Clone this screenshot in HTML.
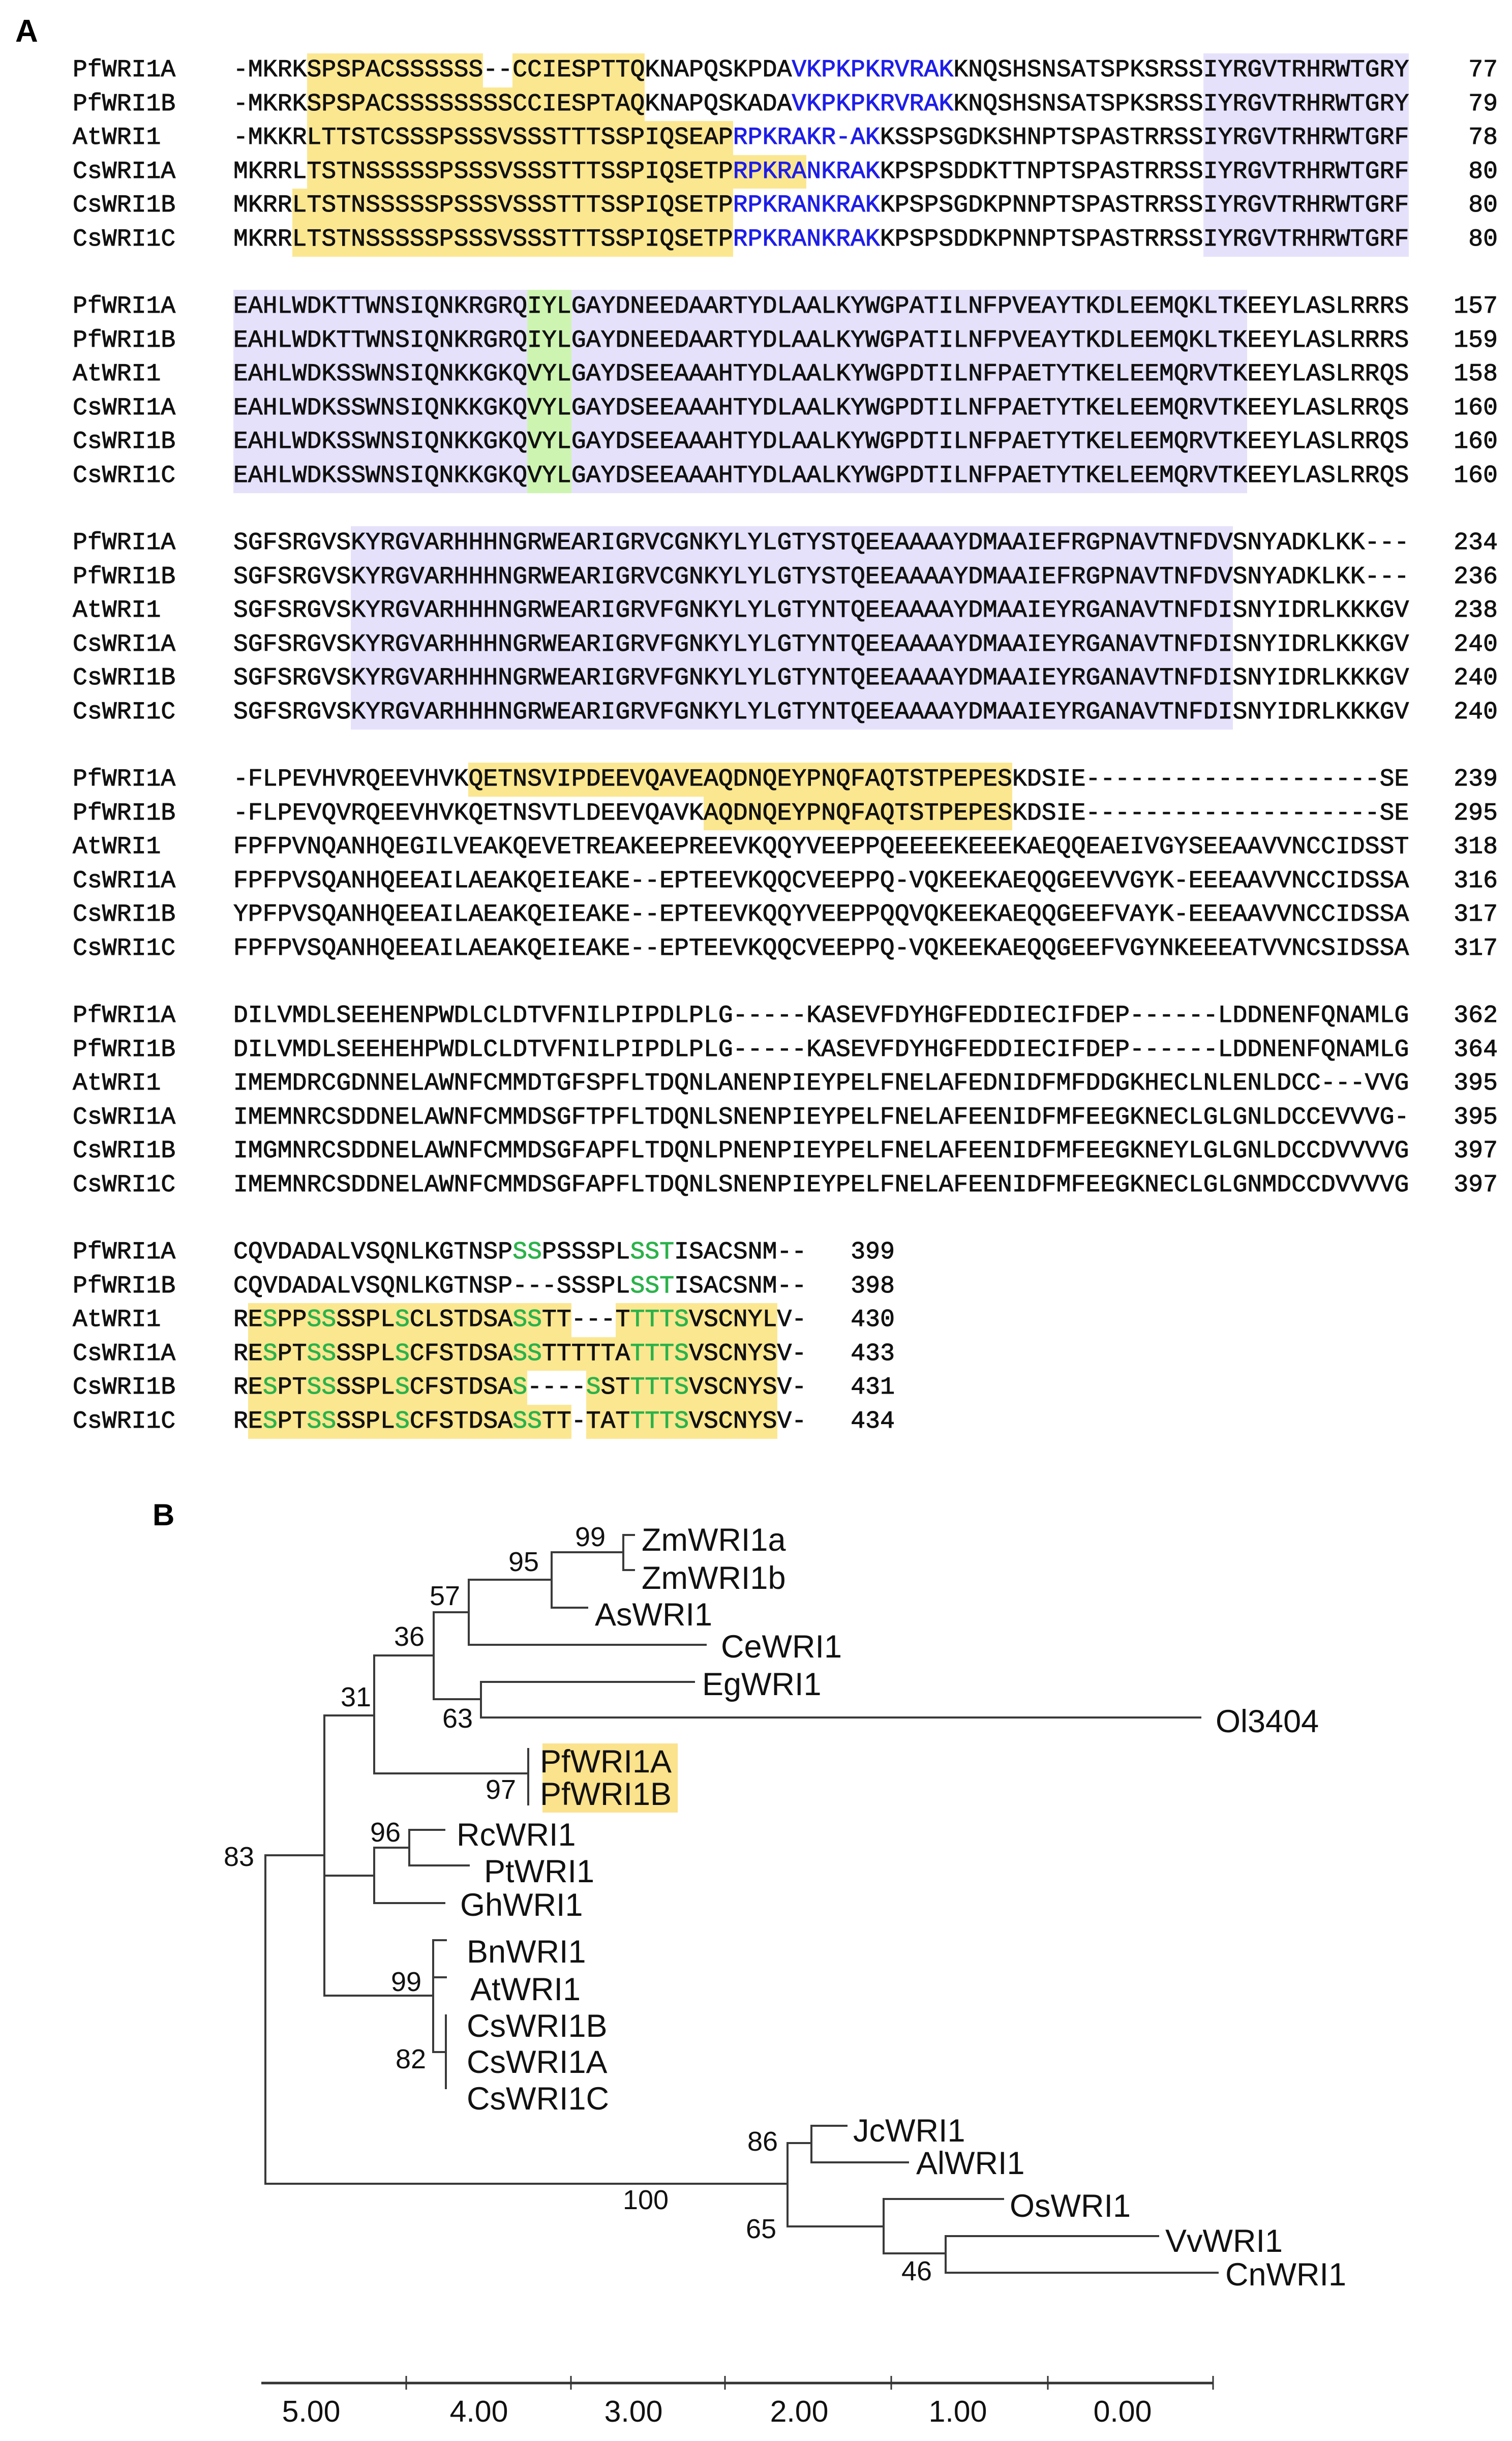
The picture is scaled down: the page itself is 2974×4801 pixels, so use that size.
<!DOCTYPE html>
<html><head><meta charset="utf-8">
<style>
html,body{margin:0;padding:0;background:#fff;}
body{width:2974px;height:4801px;position:relative;overflow:hidden;}
.r{position:absolute;font-family:"Liberation Mono",monospace;font-size:48px;line-height:66.6px;height:66.6px;white-space:pre;color:#111;-webkit-text-stroke:1px #111;letter-spacing:0.1px;}
.n{position:absolute;left:143px;}
.s{position:absolute;left:459px;}
.num{position:absolute;text-align:right;}
.y{display:inline-block;background:#fce791;}
.l{display:inline-block;background:#e6e1fb;}
.g{display:inline-block;background:#cdf5b1;}
.b{color:#1d1de8;-webkit-text-stroke:1px #1d1de8;}
.t{color:#2bb24a;-webkit-text-stroke:1px #2bb24a;}
.lab{position:absolute;font-family:"Liberation Sans",sans-serif;font-weight:bold;}
</style></head><body>
<div class="lab" style="left:30px;top:26px;font-size:62px;">A</div>

<!-- Block 1 -->
<div class="r n" style="top:105px">PfWRI1A</div>
<div class="r s" style="top:105px">-MKRK<span class="y">SPSPACSSSSSS</span>--<span class="y">CCIESPTTQ</span>KNAPQSKPDA<span class="b">VKPKPKRVRAK</span>KNQSHSNSATSPKSRSS<span class="l">IYRGVTRHRWTGRY</span></div>
<div class="r num" style="top:105px;right:28px">77</div>
<div class="r n" style="top:171.6px">PfWRI1B</div>
<div class="r s" style="top:171.6px">-MKRK<span class="y">SPSPACSSSSSSSSCCIESPTAQ</span>KNAPQSKADA<span class="b">VKPKPKRVRAK</span>KNQSHSNSATSPKSRSS<span class="l">IYRGVTRHRWTGRY</span></div>
<div class="r num" style="top:171.6px;right:28px">79</div>
<div class="r n" style="top:238.2px">AtWRI1</div>
<div class="r s" style="top:238.2px">-MKKR<span class="y">LTTSTCSSSPSSSVSSSTTTSSPIQSEAP</span><span class="b">RPKRAKR-AK</span>KSSPSGDKSHNPTSPASTRRSS<span class="l">IYRGVTRHRWTGRF</span></div>
<div class="r num" style="top:238.2px;right:28px">78</div>
<div class="r n" style="top:304.8px">CsWRI1A</div>
<div class="r s" style="top:304.8px">MKRRL<span class="y">TSTNSSSSSPSSSVSSSTTTSSPIQSETP<span class="b">RPKRA</span></span><span class="b">NKRAK</span>KPSPSDDKTTNPTSPASTRRSS<span class="l">IYRGVTRHRWTGRF</span></div>
<div class="r num" style="top:304.8px;right:28px">80</div>
<div class="r n" style="top:371.4px">CsWRI1B</div>
<div class="r s" style="top:371.4px">MKRR<span class="y">LTSTNSSSSSPSSSVSSSTTTSSPIQSETP</span><span class="b">RPKRANKRAK</span>KPSPSGDKPNNPTSPASTRRSS<span class="l">IYRGVTRHRWTGRF</span></div>
<div class="r num" style="top:371.4px;right:28px">80</div>
<div class="r n" style="top:438px">CsWRI1C</div>
<div class="r s" style="top:438px">MKRR<span class="y">LTSTNSSSSSPSSSVSSSTTTSSPIQSETP</span><span class="b">RPKRANKRAK</span>KPSPSDDKPNNPTSPASTRRSS<span class="l">IYRGVTRHRWTGRF</span></div>
<div class="r num" style="top:438px;right:28px">80</div>

<!-- Block 2 -->
<div class="r n" style="top:570px">PfWRI1A</div>
<div class="r s" style="top:570px"><span class="l">EAHLWDKTTWNSIQNKRGRQ</span><span class="g">IYL</span><span class="l">GAYDNEEDAARTYDLAALKYWGPATILNFPVEAYTKDLEEMQKLTK</span>EEYLASLRRRS</div>
<div class="r num" style="top:570px;right:28px">157</div>
<div class="r n" style="top:636.6px">PfWRI1B</div>
<div class="r s" style="top:636.6px"><span class="l">EAHLWDKTTWNSIQNKRGRQ</span><span class="g">IYL</span><span class="l">GAYDNEEDAARTYDLAALKYWGPATILNFPVEAYTKDLEEMQKLTK</span>EEYLASLRRRS</div>
<div class="r num" style="top:636.6px;right:28px">159</div>
<div class="r n" style="top:703.2px">AtWRI1</div>
<div class="r s" style="top:703.2px"><span class="l">EAHLWDKSSWNSIQNKKGKQ</span><span class="g">VYL</span><span class="l">GAYDSEEAAAHTYDLAALKYWGPDTILNFPAETYTKELEEMQRVTK</span>EEYLASLRRQS</div>
<div class="r num" style="top:703.2px;right:28px">158</div>
<div class="r n" style="top:769.8px">CsWRI1A</div>
<div class="r s" style="top:769.8px"><span class="l">EAHLWDKSSWNSIQNKKGKQ</span><span class="g">VYL</span><span class="l">GAYDSEEAAAHTYDLAALKYWGPDTILNFPAETYTKELEEMQRVTK</span>EEYLASLRRQS</div>
<div class="r num" style="top:769.8px;right:28px">160</div>
<div class="r n" style="top:836.4px">CsWRI1B</div>
<div class="r s" style="top:836.4px"><span class="l">EAHLWDKSSWNSIQNKKGKQ</span><span class="g">VYL</span><span class="l">GAYDSEEAAAHTYDLAALKYWGPDTILNFPAETYTKELEEMQRVTK</span>EEYLASLRRQS</div>
<div class="r num" style="top:836.4px;right:28px">160</div>
<div class="r n" style="top:903px">CsWRI1C</div>
<div class="r s" style="top:903px"><span class="l">EAHLWDKSSWNSIQNKKGKQ</span><span class="g">VYL</span><span class="l">GAYDSEEAAAHTYDLAALKYWGPDTILNFPAETYTKELEEMQRVTK</span>EEYLASLRRQS</div>
<div class="r num" style="top:903px;right:28px">160</div>

<!-- Block 3 -->
<div class="r n" style="top:1035px">PfWRI1A</div>
<div class="r s" style="top:1035px">SGFSRGVS<span class="l">KYRGVARHHHNGRWEARIGRVCGNKYLYLGTYSTQEEAAAAYDMAAIEFRGPNAVTNFDV</span>SNYADKLKK---</div>
<div class="r num" style="top:1035px;right:28px">234</div>
<div class="r n" style="top:1101.6px">PfWRI1B</div>
<div class="r s" style="top:1101.6px">SGFSRGVS<span class="l">KYRGVARHHHNGRWEARIGRVCGNKYLYLGTYSTQEEAAAAYDMAAIEFRGPNAVTNFDV</span>SNYADKLKK---</div>
<div class="r num" style="top:1101.6px;right:28px">236</div>
<div class="r n" style="top:1168.2px">AtWRI1</div>
<div class="r s" style="top:1168.2px">SGFSRGVS<span class="l">KYRGVARHHHNGRWEARIGRVFGNKYLYLGTYNTQEEAAAAYDMAAIEYRGANAVTNFDI</span>SNYIDRLKKKGV</div>
<div class="r num" style="top:1168.2px;right:28px">238</div>
<div class="r n" style="top:1234.8px">CsWRI1A</div>
<div class="r s" style="top:1234.8px">SGFSRGVS<span class="l">KYRGVARHHHNGRWEARIGRVFGNKYLYLGTYNTQEEAAAAYDMAAIEYRGANAVTNFDI</span>SNYIDRLKKKGV</div>
<div class="r num" style="top:1234.8px;right:28px">240</div>
<div class="r n" style="top:1301.4px">CsWRI1B</div>
<div class="r s" style="top:1301.4px">SGFSRGVS<span class="l">KYRGVARHHHNGRWEARIGRVFGNKYLYLGTYNTQEEAAAAYDMAAIEYRGANAVTNFDI</span>SNYIDRLKKKGV</div>
<div class="r num" style="top:1301.4px;right:28px">240</div>
<div class="r n" style="top:1368px">CsWRI1C</div>
<div class="r s" style="top:1368px">SGFSRGVS<span class="l">KYRGVARHHHNGRWEARIGRVFGNKYLYLGTYNTQEEAAAAYDMAAIEYRGANAVTNFDI</span>SNYIDRLKKKGV</div>
<div class="r num" style="top:1368px;right:28px">240</div>

<!-- Block 4 -->
<div class="r n" style="top:1500px">PfWRI1A</div>
<div class="r s" style="top:1500px">-FLPEVHVRQEEVHVK<span class="y">QETNSVIPDEEVQAVEAQDNQEYPNQFAQTSTPEPES</span>KDSIE--------------------SE</div>
<div class="r num" style="top:1500px;right:28px">239</div>
<div class="r n" style="top:1566.6px">PfWRI1B</div>
<div class="r s" style="top:1566.6px">-FLPEVQVRQEEVHVKQETNSVTLDEEVQAVK<span class="y">AQDNQEYPNQFAQTSTPEPES</span>KDSIE--------------------SE</div>
<div class="r num" style="top:1566.6px;right:28px">295</div>
<div class="r n" style="top:1633.2px">AtWRI1</div>
<div class="r s" style="top:1633.2px">FPFPVNQANHQEGILVEAKQEVETREAKEEPREEVKQQYVEEPPQEEEEKEEEKAEQQEAEIVGYSEEAAVVNCCIDSST</div>
<div class="r num" style="top:1633.2px;right:28px">318</div>
<div class="r n" style="top:1699.8px">CsWRI1A</div>
<div class="r s" style="top:1699.8px">FPFPVSQANHQEEAILAEAKQEIEAKE--EPTEEVKQQCVEEPPQ-VQKEEKAEQQGEEVVGYK-EEEAAVVNCCIDSSA</div>
<div class="r num" style="top:1699.8px;right:28px">316</div>
<div class="r n" style="top:1766.4px">CsWRI1B</div>
<div class="r s" style="top:1766.4px">YPFPVSQANHQEEAILAEAKQEIEAKE--EPTEEVKQQYVEEPPQQVQKEEKAEQQGEEFVAYK-EEEAAVVNCCIDSSA</div>
<div class="r num" style="top:1766.4px;right:28px">317</div>
<div class="r n" style="top:1833px">CsWRI1C</div>
<div class="r s" style="top:1833px">FPFPVSQANHQEEAILAEAKQEIEAKE--EPTEEVKQQCVEEPPQ-VQKEEKAEQQGEEFVGYNKEEEATVVNCSIDSSA</div>
<div class="r num" style="top:1833px;right:28px">317</div>

<!-- Block 5 -->
<div class="r n" style="top:1965px">PfWRI1A</div>
<div class="r s" style="top:1965px">DILVMDLSEEHENPWDLCLDTVFNILPIPDLPLG-----KASEVFDYHGFEDDIECIFDEP------LDDNENFQNAMLG</div>
<div class="r num" style="top:1965px;right:28px">362</div>
<div class="r n" style="top:2031.6px">PfWRI1B</div>
<div class="r s" style="top:2031.6px">DILVMDLSEEHEHPWDLCLDTVFNILPIPDLPLG-----KASEVFDYHGFEDDIECIFDEP------LDDNENFQNAMLG</div>
<div class="r num" style="top:2031.6px;right:28px">364</div>
<div class="r n" style="top:2098.2px">AtWRI1</div>
<div class="r s" style="top:2098.2px">IMEMDRCGDNNELAWNFCMMDTGFSPFLTDQNLANENPIEYPELFNELAFEDNIDFMFDDGKHECLNLENLDCC---VVG</div>
<div class="r num" style="top:2098.2px;right:28px">395</div>
<div class="r n" style="top:2164.8px">CsWRI1A</div>
<div class="r s" style="top:2164.8px">IMEMNRCSDDNELAWNFCMMDSGFTPFLTDQNLSNENPIEYPELFNELAFEENIDFMFEEGKNECLGLGNLDCCEVVVG-</div>
<div class="r num" style="top:2164.8px;right:28px">395</div>
<div class="r n" style="top:2231.4px">CsWRI1B</div>
<div class="r s" style="top:2231.4px">IMGMNRCSDDNELAWNFCMMDSGFAPFLTDQNLPNENPIEYPELFNELAFEENIDFMFEEGKNEYLGLGNLDCCDVVVVG</div>
<div class="r num" style="top:2231.4px;right:28px">397</div>
<div class="r n" style="top:2298px">CsWRI1C</div>
<div class="r s" style="top:2298px">IMEMNRCSDDNELAWNFCMMDSGFAPFLTDQNLSNENPIEYPELFNELAFEENIDFMFEEGKNECLGLGNMDCCDVVVVG</div>
<div class="r num" style="top:2298px;right:28px">397</div>

<!-- Block 6 -->
<div class="r n" style="top:2430px">PfWRI1A</div>
<div class="r s" style="top:2430px">CQVDADALVSQNLKGTNSP<span class="t">SS</span>PSSSPL<span class="t">SST</span>ISACSNM--</div>
<div class="r num" style="top:2430px;left:1660px;width:100px">399</div>
<div class="r n" style="top:2496.6px">PfWRI1B</div>
<div class="r s" style="top:2496.6px">CQVDADALVSQNLKGTNSP---SSSPL<span class="t">SST</span>ISACSNM--</div>
<div class="r num" style="top:2496.6px;left:1660px;width:100px">398</div>
<div class="r n" style="top:2563.2px">AtWRI1</div>
<div class="r s" style="top:2563.2px">R<span class="y">E<span class="t">S</span>PP<span class="t">SS</span>SSPL<span class="t">S</span>CLSTDSA<span class="t">SS</span>TT</span>---<span class="y">T<span class="t">TTTS</span>VSCNYL</span>V-</div>
<div class="r num" style="top:2563.2px;left:1660px;width:100px">430</div>
<div class="r n" style="top:2629.8px">CsWRI1A</div>
<div class="r s" style="top:2629.8px">R<span class="y">E<span class="t">S</span>PT<span class="t">SS</span>SSPL<span class="t">S</span>CFSTDSA<span class="t">SS</span>TTTTTA<span class="t">TTTS</span>VSCNYS</span>V-</div>
<div class="r num" style="top:2629.8px;left:1660px;width:100px">433</div>
<div class="r n" style="top:2696.4px">CsWRI1B</div>
<div class="r s" style="top:2696.4px">R<span class="y">E<span class="t">S</span>PT<span class="t">SS</span>SSPL<span class="t">S</span>CFSTDSA<span class="t">S</span></span>----<span class="y"><span class="t">S</span>ST<span class="t">TTTS</span>VSCNYS</span>V-</div>
<div class="r num" style="top:2696.4px;left:1660px;width:100px">431</div>
<div class="r n" style="top:2763px">CsWRI1C</div>
<div class="r s" style="top:2763px">R<span class="y">E<span class="t">S</span>PT<span class="t">SS</span>SSPL<span class="t">S</span>CFSTDSA<span class="t">SS</span>TT</span>-<span class="y">TAT<span class="t">TTTS</span>VSCNYS</span>V-</div>
<div class="r num" style="top:2763px;left:1660px;width:100px">434</div>

<!-- Panel B -->
<svg width="2974" height="4801" style="position:absolute;left:0;top:0" xmlns="http://www.w3.org/2000/svg">
<text x="300" y="3000" font-family="Liberation Sans, sans-serif" font-weight="bold" font-size="60">B</text>
<rect x="1067" y="3429" width="266" height="136" fill="#fbe28c"/>
<g stroke="#3a3a3a" stroke-width="4" fill="none" stroke-linecap="square">
<path d="M1226 3019V3088M1226 3019H1247M1226 3088H1247"/>
<path d="M1085 3053H1226M1085 3053V3162M1085 3162H1155"/>
<path d="M922 3107H1085M922 3107V3235M922 3235H1388"/>
<path d="M853 3171H922M853 3171V3342M853 3342H946"/>
<path d="M946 3308V3378M946 3308H1365M946 3378H2361"/>
<path d="M736 3256H853M736 3256V3488M736 3488H1039M1039 3440V3549"/>
<path d="M638 3374H736M638 3374V3925M638 3689H736M638 3925H852"/>
<path d="M522 3649H638M522 3649V4295M522 4295H1549"/>
<path d="M736 3634V3743M736 3634H805M736 3743H874M805 3599V3669M805 3599H874M805 3669H922"/>
<path d="M852 3816V4036M852 3816H877M852 3889H877M852 4036H877M877 3964V4107"/>
<path d="M1549 4215V4379M1549 4215H1596M1596 4181V4253M1596 4181H1665M1596 4253H1786"/>
<path d="M1549 4379H1738M1738 4325V4432M1738 4325H1973M1738 4432H1860M1860 4398V4470M1860 4398H2278M1860 4470H2395"/>
</g>
<g stroke="#333" stroke-width="5"><path d="M514 4687H2386"/></g>
<g stroke="#333" stroke-width="3"><path d="M799 4673V4700M1123 4673V4700M1426 4673V4700M1753 4673V4700M2061 4673V4700M2386 4673V4700"/></g>
<g font-family="Liberation Sans, sans-serif" font-size="63" fill="#111" dominant-baseline="central">
<text x="1262" y="3029">ZmWRI1a</text>
<text x="1262" y="3104">ZmWRI1b</text>
<text x="1170" y="3176">AsWRI1</text>
<text x="1418" y="3239">CeWRI1</text>
<text x="1381" y="3313">EgWRI1</text>
<text x="2391" y="3386">Ol3404</text>
<text x="1062" y="3465">PfWRI1A</text>
<text x="1062" y="3529">PfWRI1B</text>
<text x="898" y="3609">RcWRI1</text>
<text x="952" y="3681">PtWRI1</text>
<text x="905" y="3747">GhWRI1</text>
<text x="918" y="3839">BnWRI1</text>
<text x="925" y="3913">AtWRI1</text>
<text x="918" y="3985">CsWRI1B</text>
<text x="918" y="4056">CsWRI1A</text>
<text x="918" y="4128">CsWRI1C</text>
<text x="1678" y="4191">JcWRI1</text>
<text x="1802" y="4255">AlWRI1</text>
<text x="1986" y="4339">OsWRI1</text>
<text x="2292" y="4408">VvWRI1</text>
<text x="2410" y="4474">CnWRI1</text>
</g>
<g font-family="Liberation Sans, sans-serif" font-size="54" fill="#111" dominant-baseline="central" text-anchor="middle">
<text x="1161" y="3023">99</text>
<text x="1030" y="3072">95</text>
<text x="875" y="3139">57</text>
<text x="805" y="3219">36</text>
<text x="700" y="3338">31</text>
<text x="900" y="3380">63</text>
<text x="985" y="3520">97</text>
<text x="758" y="3604">96</text>
<text x="470" y="3652">83</text>
<text x="799" y="3898">99</text>
<text x="808" y="4050">82</text>
<text x="1500" y="4212">86</text>
<text x="1270" y="4327">100</text>
<text x="1497" y="4384">65</text>
<text x="1803" y="4467">46</text>
</g>
<g font-family="Liberation Sans, sans-serif" font-size="59" fill="#111" dominant-baseline="central" text-anchor="middle">
<text x="612" y="4743">5.00</text>
<text x="942" y="4743">4.00</text>
<text x="1246" y="4743">3.00</text>
<text x="1572" y="4743">2.00</text>
<text x="1884" y="4743">1.00</text>
<text x="2208" y="4743">0.00</text>
</g>
</svg>
</body></html>
